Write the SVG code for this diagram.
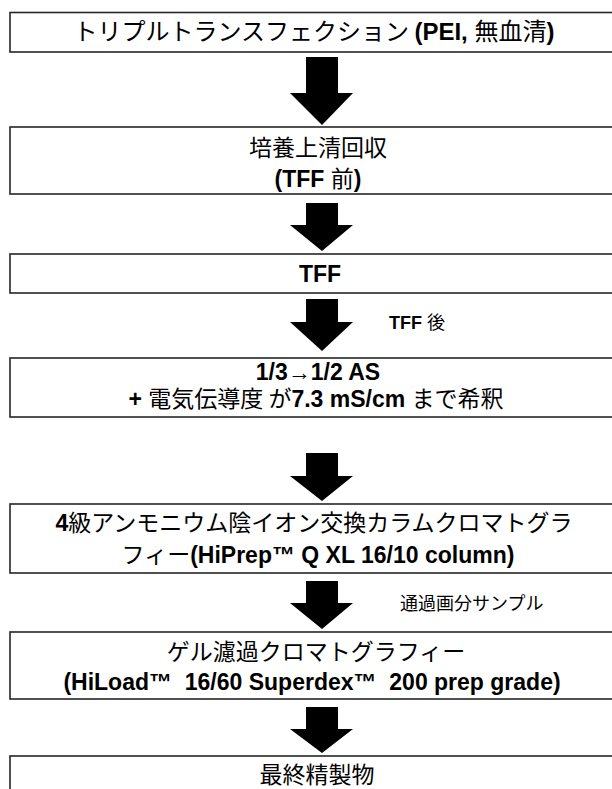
<svg xmlns="http://www.w3.org/2000/svg" width="612" height="789" viewBox="0 0 612 789">
<style>
.box{fill:#fff;stroke:#262626;stroke-width:1.6}
.t{font-family:"Noto Sans CJK JP","Liberation Sans",sans-serif;font-size:23px;fill:#000;text-anchor:middle}
.b{font-family:"Liberation Sans","Noto Sans CJK JP",sans-serif;font-weight:bold}
.lab{font-family:"Noto Sans CJK JP","Liberation Sans",sans-serif;font-size:18px;fill:#000}
.arr{fill:#000}
</style>
<rect width="612" height="789" fill="#fff"/>
<g id="n1"><rect class="box" x="10" y="12.5" width="620" height="39.5"/>
<text class="t" x="314" y="40" style="font-size:24px">トリプルトランスフェクション <tspan class="b">(PEI, </tspan>無血清<tspan class="b">)</tspan></text></g>
<g id="n2"><rect class="box" x="10" y="127" width="620" height="67"/>
<text class="t" x="318" y="156">培養上清回収</text>
<text class="t" x="318" y="187"><tspan class="b">(TFF </tspan>前<tspan class="b">)</tspan></text></g>
<g id="n3"><rect class="box" x="10" y="254" width="620" height="39"/>
<text class="t" x="320" y="282"><tspan class="b">TFF</tspan></text></g>
<g id="n4"><rect class="box" x="10" y="358" width="620" height="59"/>
<text class="t" x="318" y="380"><tspan class="b">1/3→1/2 AS</tspan></text>
<text class="t" x="316" y="407"><tspan class="b">+ </tspan>電気伝導度 が<tspan class="b">7.3 mS/cm </tspan>まで希釈</text></g>
<g id="n5"><rect class="box" x="10" y="504" width="620" height="69"/>
<text class="t" x="314" y="531"><tspan class="b">4</tspan>級アンモニウム陰イオン交換カラムクロマトグラ</text>
<text class="t" x="318" y="563">フィー<tspan class="b">(HiPrep™ Q XL 16/10 column)</tspan></text></g>
<g id="n6"><rect class="box" x="10" y="632" width="620" height="67"/>
<text class="t" x="316" y="660">ゲル濾過クロマトグラフィー</text>
<text class="t" x="312" y="690" xml:space="preserve"><tspan class="b">(HiLoad™  16/60 Superdex™  200 prep grade)</tspan></text></g>
<g id="n7"><rect class="box" x="10" y="756" width="620" height="60"/>
<text class="t" x="317" y="783">最終精製物</text></g>
<g id="connectors">
<polygon class="arr" points="306,57 338,57 338,93 353,93 322,125 290,93 306,93"/>
<polygon class="arr" points="306,203 338,203 338,225 353,225 322,251 290,225 306,225"/>
<polygon class="arr" points="306,299 338,299 338,322 353,322 322,351 290,322 306,322"/>
<polygon class="arr" points="306,453 338,453 338,476 353,476 322,501 290,476 306,476"/>
<polygon class="arr" points="306,581 338,581 338,603 353,603 322,629 290,603 306,603"/>
<polygon class="arr" points="306,707 338,707 338,729 353,729 322,753 290,729 306,729"/>
<text class="lab" x="389" y="329"><tspan class="b">TFF </tspan>後</text>
<text class="lab" x="400" y="610">通過画分サンプル</text>
</g>
</svg>
